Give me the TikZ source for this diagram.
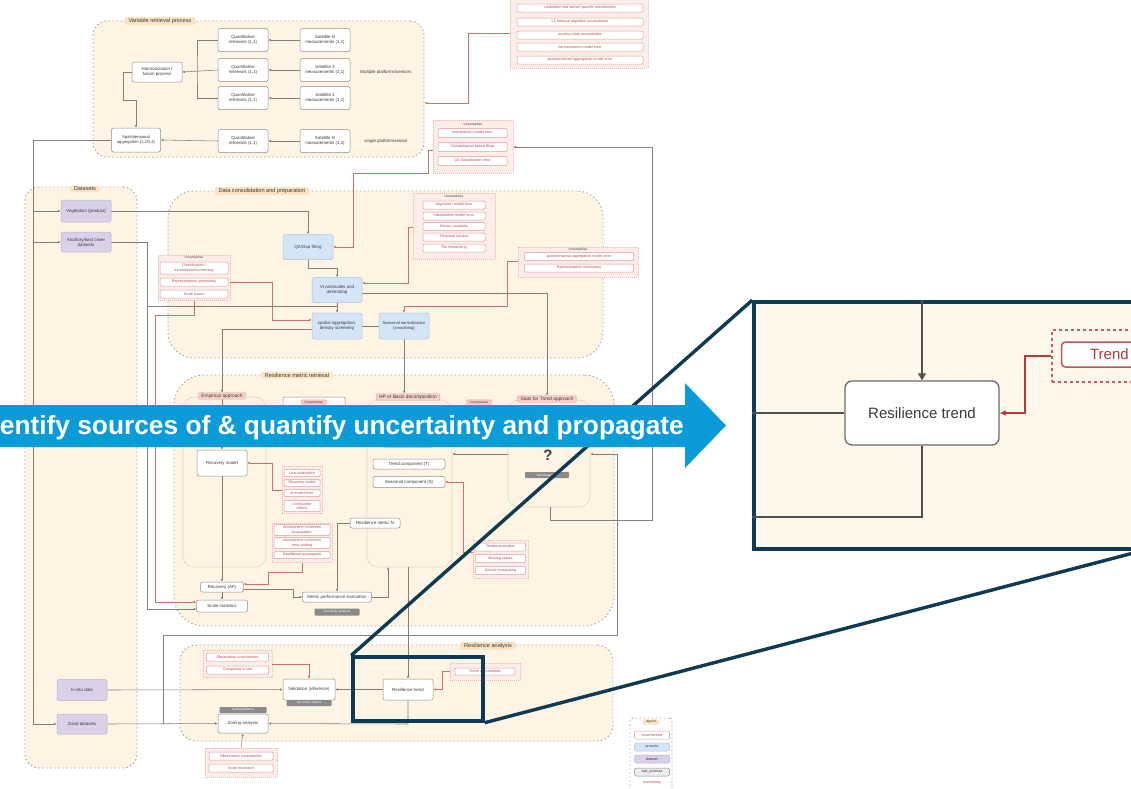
\documentclass[tikz,border=0pt]{standalone}
\usepackage{fontspec}
\setmainfont{Liberation Sans}
\usetikzlibrary{arrows.meta,calc}
\pgfdeclarelayer{bg}
\pgfdeclarelayer{edges}
\pgfsetlayers{bg,edges,main}

\definecolor{creamC}{HTML}{FDF4E4}
\definecolor{grpC}{HTML}{A3A3A3}
\definecolor{tagC}{HTML}{FBE2C2}
\definecolor{textC}{HTML}{3A3A3A}
\definecolor{wbC}{HTML}{8C8C8C}
\definecolor{blueF}{HTML}{D5E5F8}
\definecolor{blueD}{HTML}{A8C3E4}
\definecolor{purF}{HTML}{DAD0E8}
\definecolor{purD}{HTML}{BBAED0}
\definecolor{redD}{HTML}{E39A9A}
\definecolor{redG}{HTML}{EDB3B0}
\definecolor{redF}{HTML}{FCEDE9}
\definecolor{redT}{HTML}{B5504D}
\definecolor{redTag}{HTML}{F6CFCB}
\definecolor{redL}{HTML}{C8716E}
\definecolor{gtC}{HTML}{8A8A8A}
\definecolor{lnC}{HTML}{857D78}
\definecolor{subC}{HTML}{E6D3C8}
\definecolor{navyC}{HTML}{0E3A53}
\definecolor{bannerC}{HTML}{0A9BD8}
\definecolor{bigCream}{HTML}{FEF8EA}
\definecolor{bigLn}{HTML}{505050}
\definecolor{bigRed}{HTML}{B8373A}

\newcommand\dgf{\fontsize{4.4}{5.0}\selectfont}
\newcommand\ugf{\fontsize{3.7}{4.2}\selectfont}
\newcommand\tgf{\fontsize{3.2}{3.6}\selectfont}
\newcommand\grpf{\fontsize{5.6}{6.2}\selectfont}
\newcommand\rtf{\fontsize{4.8}{5.4}\selectfont}

\begin{document}
\begin{tikzpicture}[x=1pt,y=-1pt,
  sz/.style 2 args={minimum width=#1pt,minimum height=#2pt},
  grp/.style={draw=grpC,line width=0.9pt,dash pattern=on 1.5pt off 2.5pt,fill=creamC,inner sep=0pt},
  ttl/.style={fill=tagC,rounded corners=1.5pt,inner xsep=4pt,inner ysep=1.2pt,font=\grpf,text=textC},
  wn/.style={draw=wbC,fill=white,rounded corners=2pt,line width=0.5pt,align=center,inner sep=0.5pt,font=\dgf,text=textC},
  bl/.style={wn,draw=blueD,fill=blueF},
  pu/.style={wn,draw=purD,fill=purF},
  ui/.style={draw=redD,fill=white,rounded corners=1pt,line width=0.5pt,inner sep=0.3pt,align=center,font=\ugf,text=redT},
  ug/.style={draw=redG,dash pattern=on 1pt off 1pt,fill=redF,line width=0.5pt,inner sep=0pt},
  uh/.style={font=\tgf,text=textC,inner sep=0.4pt,fill=redF},
  gt/.style={fill=gtC,rounded corners=0.8pt,font=\tgf,text=white,inner sep=0.3pt},
  rtag/.style={fill=redTag,draw=redD,line width=0.4pt,rounded corners=1pt,inner xsep=3pt,inner ysep=1pt,font=\rtf,text=textC},
  sub/.style={draw=subC,line width=0.6pt,rounded corners=11pt,fill=creamC,inner sep=0pt},
  ln/.style={draw=lnC,line width=0.55pt},
  ar/.style={ln,-{Latex[length=2.6pt,width=2.4pt]}},
  rln/.style={draw=redL,line width=0.55pt},
  rar/.style={rln,-{Latex[length=2.6pt,width=2.4pt]}},
  lbl/.style={font=\dgf,text=textC,inner sep=0pt},
  zoomln/.style={draw=navyC,line width=3.4pt},
  bigln/.style={draw=bigLn,line width=1.2pt},
  bigar/.style={bigln,-{Triangle[length=7pt,width=8pt]}},
  bigrar/.style={draw=bigRed,line width=1.3pt,-{Latex[length=6pt,width=6pt]}}
]
\useasboundingbox (0,0) rectangle (1131,788);
\clip (0,0) rectangle (1131,788);

% ---------- page and group frames ----------
\begin{pgfonlayer}{bg}
\fill[white] (0,0) rectangle (1131,788);
\node[grp,rounded corners=14pt,sz={331}{136}] (gvar) at (258.5,89) {};
\node[grp,rounded corners=14pt,sz={112}{581}] (gdat) at (81,477.5) {};
\node[grp,rounded corners=26pt,sz={435}{167}] (gcon) at (385.5,274.5) {};
\node[grp,rounded corners=30pt,sz={440}{251}] (gres) at (394,500.5) {};
\node[grp,rounded corners=16pt,sz={433}{96}] (gana) at (396.5,693) {};
\node[sub,sz={83}{170}] (empsub) at (224.5,482) {};
\node[sub,sz={85}{167}] (hpsub) at (409.5,483.5) {};
\node[sub,sz={82}{107}] (qsub) at (549,453.5) {};
\node[grp,rounded corners=3pt,fill=white,sz={42}{74}] (glegend) at (651,755) {};
\end{pgfonlayer}

\node[ttl] (tvar) at (160,21) {Variable retrieval process};
\node[ttl] (tdat) at (85,189) {Datasets};
\node[ttl] (tcon) at (262,191) {Data consolidation and preparation};
\node[ttl] (tres) at (297,375) {Resilience metric retrieval};
\node[ttl] (tana) at (488,646) {Resilience analysis};

% ---------- variable retrieval ----------
\node[wn,sz={50}{20}] (harm) at (157,72) {Harmonization /\\fusion process};
\node[wn,sz={50}{23}] (r1) at (243,40) {Quantitative\\retrievals (1,1)};
\node[wn,sz={50}{23}] (r2) at (243,70) {Quantitative\\retrievals (1,1)};
\node[wn,sz={50}{23}] (r3) at (243,98) {Quantitative\\retrievals (1,1)};
\node[wn,sz={50}{23}] (r4) at (243,141) {Quantitative\\retrievals (1,1)};
\node[wn,sz={50}{23}] (s1) at (325,40) {Satellite N\\measurements (1,1)};
\node[wn,sz={50}{23}] (s2) at (325,70) {Satellite 2\\measurements (1,1)};
\node[wn,sz={50}{23}] (s3) at (325,98) {Satellite 1\\measurements (1,1)};
\node[wn,sz={50}{23}] (s4) at (325,141) {Satellite N\\measurements (1,1)};
\node[wn,sz={49}{24},font=\fontsize{4.1}{4.7}\selectfont] (agg) at (136,140) {Spatiotemporal\\aggregation (1,2/3,4)};
\node[lbl] (mplat) at (386,72) {Multiple platforms/sensors};
\node[lbl] (splat) at (386,141) {single platform/sensor};

% uncertainties of the retrieval chain
\node[ug,sz={138}{70}] (utop) at (579,33) {};
\node[ui,sz={126}{8}] (ut1) at (580,8) {calibration and sensor specific uncertainties};
\node[ui,sz={126}{8}] (ut2) at (580,22) {L1 retrieval algorithm uncertainties};
\node[ui,sz={126}{8}] (ut3) at (580,35) {auxiliary data uncertainties};
\node[ui,sz={126}{8}] (ut4) at (580,47) {harmonization model error};
\node[ui,sz={126}{8}] (ut5) at (580,60) {spatiotemporal aggregation model error};

\node[ug,sz={80}{53}] (uqa) at (473,146.5) {};
\node[uh] (uqah) at (473,124) {Uncertainties};
\node[ui,sz={69}{9}] (uqa1) at (472.5,133) {Interpolation model error};
\node[ui,sz={69}{9}] (uqa2) at (472.5,147) {Climatological based filling};
\node[ui,sz={69}{9}] (uqa3) at (472.5,161) {QA classification error};

% ---------- datasets ----------
\node[pu,sz={50}{22}] (veg) at (86,211) {Vegetation (product)};
\node[pu,sz={50}{20}] (anc) at (86,242) {Ancillary/land cover\\datasets};
\node[pu,sz={50}{21}] (insitu) at (82,690) {In-situ data};
\node[pu,sz={50}{20}] (zonal) at (82,724) {Zonal datasets};

% ---------- data consolidation ----------
\node[bl,sz={50}{25}] (gap) at (308,247) {QA/Gap filling};
\node[bl,sz={50}{25}] (anom) at (337,290) {VI anomalies and\\detrending};
\node[bl,sz={50}{26}] (sagg) at (337,326) {spatial aggregation,\\density screening};
\node[bl,sz={50}{26},font=\fontsize{4.1}{4.7}\selectfont] (snorm) at (404,326) {Seasonal normalization\\(smoothing)};

\node[ug,sz={72}{45}] (uL) at (194,277.5) {};
\node[uh] (uLh) at (194,257.5) {Uncertainties};
\node[ui,sz={68}{12}] (uL1) at (194,268) {Classification /\\normalization/screening};
\node[ui,sz={68}{8}] (uL2) at (194,282) {Representation uncertainty};
\node[ui,sz={68}{8}] (uL3) at (194,294) {Scale issues};

\node[ug,sz={82}{66}] (uV) at (454,226) {};
\node[uh] (uVh) at (454,196) {Uncertainties};
\node[ui,sz={62}{8}] (uV1) at (454,205) {Vegetation model error};
\node[ui,sz={62}{8}] (uV2) at (454,216) {Interpolation model error};
\node[ui,sz={62}{8}] (uV3) at (454,226.5) {Sensor variability};
\node[ui,sz={62}{8}] (uV4) at (454,237) {Temporal window};
\node[ui,sz={62}{8}] (uV5) at (454,248) {Tile mosaicking};

\node[ug,sz={120}{30}] (uS) at (578,262) {};
\node[uh] (uSh) at (578,249.5) {Uncertainties};
\node[ui,sz={109}{8}] (uS1) at (579,256.5) {spatiotemporal aggregation model error};
\node[ui,sz={109}{8}] (uS2) at (579,268) {Representation uncertainty};

% ---------- resilience metric retrieval ----------
\node[rtag] (emptag) at (222,396) {Empirical approach};
\node[rtag] (hptag) at (408,397) {HP or Basis decomposition};
\node[rtag] (stag) at (547,399) {Stats for Trend approach};
\node[wn,sz={62}{48}] (boxa) at (314,421) {};
\node[rtag,font=\tgf] (boxah) at (314,402) {Uncertainties};
\node[rtag,font=\tgf] (boxb) at (479,402) {Uncertainties};
\node[wn,sz={50}{12}] (hp0) at (408,441) {Trend estimation};

\node[wn,sz={50}{26}] (rec) at (222,463) {Recovery model};
\node[wn,sz={43}{10}] (recaf) at (222,587) {Recovery (AF)};
\node[wn,sz={51}{12}] (sstat) at (222,606) {Scale statistics};

\node[ug,sz={40}{47}] (uR1) at (302,490) {};
\node[ui,sz={36}{7}] (uR11) at (302,473) {Loss estimation};
\node[ui,sz={36}{7}] (uR12) at (302,483) {Recovery model};
\node[ui,sz={36}{7}] (uR13) at (302,493) {fit model error};
\node[ui,sz={36}{11}] (uR14) at (302,506) {Confounder\\effects};

\node[ug,sz={60}{39}] (uR2) at (302,542.5) {};
\node[ui,sz={56}{11}] (uR21) at (302,530) {Atmospheric correction\\propagation};
\node[ui,sz={56}{11}] (uR22) at (302,543) {Atmospheric correction\\error scaling};
\node[ui,sz={56}{7}] (uR23) at (302,555) {Equilibrium assumption};

\node[wn,sz={50}{10}] (metN) at (375,523) {Resilience metric N};
\node[wn,sz={69}{10}] (mperf) at (337,597) {Metric performance evaluation};
\node[gt,sz={45}{7}] (mtag) at (337,612) {Sensitivity analysis};

\node[wn,sz={72}{10}] (hp1) at (409,464) {Trend component (T)};
\node[wn,sz={72}{11}] (hp2) at (409,482) {Seasonal component (S)};

\node[ug,sz={55}{38}] (uHP) at (500.5,559) {};
\node[ui,sz={50}{8}] (uHP1) at (500.5,547) {Temporal window};
\node[ui,sz={50}{8}] (uHP2) at (500.5,558.5) {Missing values};
\node[ui,sz={50}{8}] (uHP3) at (500.5,570.5) {Sensor mosaicking};

\node[font=\bfseries\fontsize{15}{15}\selectfont,text=textC,inner sep=0pt] (qm) at (548,455) {?};
\node[gt,sz={44}{6}] (qtag) at (547,475) {Trend statistics};

% ---------- resilience analysis ----------
\node[ug,sz={69}{27}] (uO) at (237.5,663.5) {};
\node[ui,sz={62}{8}] (uO1) at (237.5,657) {Observation uncertainties};
\node[ui,sz={62}{8}] (uO2) at (237.5,670) {Comparing in-situ};
\node[wn,sz={52}{21}] (valid) at (309,689.5) {Validation (inference)};
\node[gt,sz={45}{6}] (vtag) at (309,703) {Accuracy metrics};
\node[wn,sz={50}{19}] (zoning) at (243,723.5) {Zoning analysis};
\node[gt,sz={47}{6}] (ztag) at (243,710) {Spatial patterns};
\node[ug,sz={72}{29}] (uZ) at (241,762.5) {};
\node[ui,sz={64}{8}] (uZ1) at (241,756) {Observation uncertainties};
\node[ui,sz={64}{8}] (uZ2) at (241,768) {Scale mismatch};
\node[wn,sz={50}{21}] (rtrend) at (408,689.5) {Resilience trend};
\node[ug,sz={70}{17}] (uT) at (485,671.5) {};
\node[ui,sz={60}{7}] (uT1) at (485,671.5) {Trend uncertainties};

% ---------- legend ----------
\node[ttl,font=\tgf,inner xsep=3pt] (ltag) at (651,722) {legend};
\node[ui,sz={35}{8}] (lg1) at (652,735) {uncertainties};
\node[bl,sz={35}{8},font=\ugf] (lg2) at (652,747) {process};
\node[pu,sz={35}{8},font=\ugf] (lg3) at (652,759) {dataset};
\node[wn,fill=gray!15,sz={35}{8},font=\ugf] (lg4) at (652,772) {sub\_process};
\node[font=\ugf,text=redT,inner sep=0pt] (lg5) at (652,783) {uncertainty};

% ---------- connectors ----------
\begin{pgfonlayer}{edges}
\foreach \i in {1,2,3,4} {\draw[ar] (s\i.west) -- (r\i.east);}
\coordinate (jv) at (197,70);
\draw[ln] (r1.west) -| (jv) |- (r3.west);
\draw[ar] (r2.west) -- (harm.east);
\draw[ar] (harm.west) -- (123,72) -- (123,100) -- (136,100) -- (agg.north);
\draw[ar] (r4.west) -- (agg.east);
\draw[rar] (utop.west |- 0,33) -- (468,33) -- (468,103) -- (gvar.east |- 0,103);

\coordinate (trunk) at (33,140);
\draw[ln] (agg.west) -- (trunk) -- (33,724);
\draw[ar] (33,211) -- (veg.west);
\draw[ar] (33,242) -- (anc.west);
\draw[ar] (33,724) -- (zonal.west);

\draw[ar] (veg.east) -| (gap.north);
\draw[ar] (gap.south) -- (308,268) -| (anom.north);
\draw[ar] (anom.south) -- (sagg.north);
\draw[ln] (sagg.east) -- (snorm.west);
\draw[ar] (anc.east) -- (147,242) -- (147,609) -- (sstat.west |- 0,609);
\draw[ln] (147,306) -- (337,306);
\draw[rar] (uL2.east) -- (272,282) -- (272,320) -- (sagg.west |- 0,320);
\draw[rar] (uL3.south) -- (194,315) -- (155,315) -- (155,602) -- (sstat.west |- 0,602);
\draw[ar] (sagg.west |- 0,329) -| (emptag.north);
\draw[rar] (uV.west |- 0,227) -- (408,227) -- (408,283) -- (anom.east |- 0,283);
\draw[ar] (anom.east |- 0,293) -- (547,293) -- (stag.north);
\draw[rar] (uS.west |- 0,261) -- (507,261) -- (507,306) -- (404,306) -- (snorm.north);
\draw[ar] (snorm.south) -- (snorm.south |- hptag.north);
\draw[rar] (uqa.west |- 0,150) -- (428,150) -- (428,173) -- (353,173) -- (353,247) -- (gap.east);

\draw[ar] (emptag.south) -- (rec.north);
\draw[ar] (rec.south) -- (recaf.north);
\draw[ar] (recaf.south) -- (sstat.north);
\draw[rar] (uR1.west |- 0,490) -- (272,490) -- (272,463) -- (rec.east);
\draw[rar] (uR2.south) -- (302,572) -- (268,572) -- (268,584) -- (recaf.east |- 0,584);
\draw[ar] (recaf.east |- 0,589) -- (293,589) -- (293,597) -- (mperf.west);
\draw[ar] (metN.west) -| (mperf.north);
\coordinate (hpb) at (388,567);
\draw[ar] (mperf.east) -| (hpb);
\draw[rar] (uHP.west |- 0,552) -- (463,552) -- (463,482) -- (hp2.east);
\draw[ar] (qsub.west |- 0,454) -- (hpsub.east |- 0,454);
\draw[ar] (163,724) -- (163,635) -- (617,635) -- (617,454) -- (qsub.east |- 0,454);
\draw[ar] (550,507) -- (550,520) -- (652,520) -- (652,147) -- (uqa.east |- 0,147);
\draw[ar] (hpsub.south -| rtrend.north) -- (rtrend.north);

\draw[ar] (insitu.east) -- (valid.west);
\draw[ar] (rtrend.west) -- (valid.east);
\draw[rar] (uO.east |- 0,664) -- (309,664) -- (valid.north);
\draw[rar] (uZ.north) -- (zoning.south);
\draw[ar] (rtrend.south) -- (408,724) -- (zoning.east);
\draw[ar] (zonal.east) -- (zoning.west);
\draw[rar] (uT.west) -- (442,671.5) -- (442,689.5) -- (rtrend.east);
\end{pgfonlayer}

% ---------- magnified view ----------
\node[draw=navyC,line width=3.4pt,sz={130}{64},inner sep=0pt] (zsmall) at (418,689) {};
\node[draw=navyC,line width=3.6pt,fill=bigCream,sz={386}{247},inner sep=0pt] (zbig) at (947,425.5) {};
\draw[zoomln] (zsmall.north west) -- (zbig.north west);
\draw[zoomln] (zsmall.south east) -- (zbig.south east);
\node[draw=navyC,line width=3.6pt,fill=bigCream,sz={386}{247},inner sep=0pt] (zbigtop) at (947,425.5) {};

\node[draw=bigLn!85,line width=1.3pt,fill=white,rounded corners=7pt,sz={154}{64},
      font=\fontsize{15}{17}\selectfont,text=textC] (bigRT) at (922,413) {Resilience trend};
\draw[bigar] (zbigtop.north -| bigRT.north) -- (bigRT.north);
\draw[bigln] (zbigtop.west |- bigRT.west) -- (bigRT.west);
\draw[bigln] (bigRT.south) -- (922,517) -- (zbigtop.west |- 0,517);
\node[draw=bigRed!80,line width=1.3pt,dash pattern=on 3pt off 3pt,sz={198}{52},inner sep=0pt] (bigUG) at (1151,356) {};
\node[draw=bigRed!85,line width=1.5pt,fill=white,rounded corners=4pt,sz={185}{25},
      font=\fontsize{15}{17}\selectfont,text=bigRed] (bigUI) at (1154,354.5) {Trend uncertainties};
\draw[bigrar] (bigUG.west) -- (1025,356) -- (1025,413) -- (bigRT.east);

% ---------- banner ----------
\fill[bannerC] (-5,405) -- (685,405) -- (685,383) -- (726,425.5) -- (685,468) -- (685,447) -- (-5,447) -- cycle;
\node[anchor=base east,text=white,font=\bfseries\fontsize{26.3}{28}\selectfont,inner sep=0pt] (bantext) at (684,434.5)
  {Identify sources of \& quantify uncertainty and propagate};
\end{tikzpicture}
\end{document}
